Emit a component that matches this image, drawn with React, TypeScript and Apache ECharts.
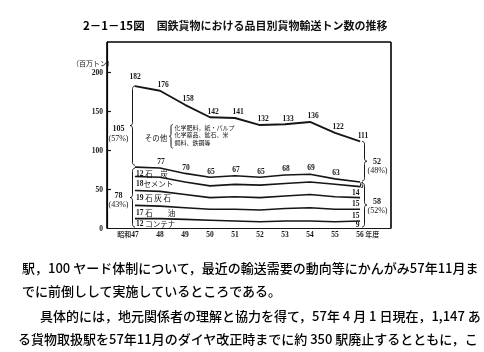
import React, { useEffect, useRef } from 'react';
import * as echarts from 'echarts';

// 年度 (昭和)
const years = [47, 48, 49, 50, 51, 52, 53, 54, 55, 56];
// 百万トン, stacked bottom → top
const containerT = [12, 12, 11, 10, 9, 8, 9, 9, 8, 9];
const oilT = [17, 16, 15, 14, 15, 15, 16, 17, 16, 15];
const limestoneT = [19, 19, 17, 15, 16, 16, 16, 17, 16, 15];
const cementT = [18, 18, 16, 15, 16, 16, 16, 16, 16, 14];
const coalT = [12, 12, 11, 11, 11, 10, 11, 10, 7, 6];
const othersT = [104, 99, 88, 77, 74, 67, 65, 67, 59, 52];

const bandNames = [' コンテナ', ' 石　　油', ' 石 灰 石', 'セメント', ' 石　炭'];
const yTicks = [0, 50, 100, 150, 200];
const others47 = ['105', '(57%)'];
const group47 = ['78', '(43%)'];
const others56 = ['52', '(48%)'];
const group56 = ['58', '(52%)'];
const othersName = 'その他';
const othersNote = ['化学肥料，紙・パルプ', '化学薬品、鉱石、米', '飼料、鉄鋼等'];
const titleNo = '2－1－15図';
const titleText = '国鉄貨物における品目別貨物輸送トン数の推移';
const yUnit = '（百万トン）';
const bodyLines = [
  '駅，100 ヤード体制について，最近の輸送需要の動向等にかんがみ57年11月ま',
  'でに前倒しして実施しているところである。',
  '具体的には，地元関係者の理解と協力を得て，57年 4 月 1 日現在，1,147 あ',
  'る貨物取扱駅を57年11月のダイヤ改正時までに約 350 駅廃止するとともに，こ',
];

const INK = '#161616';
const NUM = "'Liberation Serif', 'DejaVu Serif', serif";
const JP = "'Noto Sans CJK JP', sans-serif";
const X_MIN = 45.88;
const X_MAX = 57.24;
const Y_MAX = 238.5;

function bracePoints(x: number, y1: number, y2: number, w: number, dir: number) {
  const pts: number[][] = [];
  const ym = (y1 + y2) / 2;
  const r = Math.min(w * 1.3, (y2 - y1) / 4);
  const q = (p0: number[], c: number[], p1: number[]) => {
    for (let i = 0; i <= 6; i++) {
      const t = i / 6;
      const a = (1 - t) * (1 - t), b = 2 * (1 - t) * t, d = t * t;
      pts.push([a * p0[0] + b * c[0] + d * p1[0], a * p0[1] + b * c[1] + d * p1[1]]);
    }
  };
  q([x + dir * w, y1], [x, y1], [x, y1 + r]);
  q([x, ym - r], [x, ym], [x - dir * w, ym]);
  q([x - dir * w, ym], [x, ym], [x, ym + r]);
  q([x, y2 - r], [x, y2], [x + dir * w, y2]);
  return pts;
}

export default function App() {
  const ref = useRef<HTMLDivElement>(null);
  useEffect(() => {
    const el = ref.current!;
    const chart = echarts.init(el, null, { renderer: 'svg' });
    const stack = [containerT, oilT, limestoneT, cementT, coalT, othersT];
    const totals = years.map((_, j) => stack.reduce((s, a) => s + a[j], 0));
    const groupTotals = years.map((_, j) => stack.slice(0, 5).reduce((s, a) => s + a[j], 0));
    const numLabel = { fontSize: 7.5, fontWeight: 'bold', fontFamily: NUM, color: INK };

    const series = stack.map((arr, i) => {
      // value first so that the stack is applied to the value dimension
      const s: any = {
        type: 'line',
        stack: 'all',
        encode: { x: 1, y: 0 },
        symbol: 'circle',
        symbolSize: 0.5,
        showSymbol: true,
        silent: true,
        itemStyle: { color: INK },
        lineStyle: { color: INK, width: i === 5 ? 1.9 : 1.6 },
        data: arr.map((v, j) => [v, years[j]]),
      };
      if (i === 5) {
        s.data = arr.map((v, j) =>
          j === 0 ? { value: [v, years[j]], label: { distance: 5, offset: [0, 0] } } : [v, years[j]]
        );
        s.label = {
          show: true, position: 'top', distance: 2, offset: [3, 0],
          formatter: (p: any) => String(totals[p.dataIndex]), ...numLabel,
        };
      }
      if (i === 4) {
        s.label = {
          show: true, position: 'top', distance: 2, offset: [1, 0],
          formatter: (p: any) => (p.dataIndex === 0 || p.dataIndex === 9 ? '' : String(groupTotals[p.dataIndex])),
          ...numLabel,
        };
      }
      return s;
    });

    chart.setOption({
      animation: false,
      backgroundColor: '#fff',
      grid: { left: 107, right: 93, top: 42, bottom: 124 },
      xAxis: {
        type: 'value', min: X_MIN, max: X_MAX,
        axisLine: { show: true, onZero: false, lineStyle: { color: INK, width: 1.2 } },
        axisTick: { show: false },
        splitLine: { show: false },
        axisLabel: {
          customValues: years, margin: 2, ...numLabel,
          formatter: (v: number) =>
            v === 47 ? '{s|昭和}{v|47}{h|昭和}' : v === 56 ? '{h| 年度}{v|56}{s| 年度}' : `{v|${v}}`,
          rich: {
            s: { fontSize: 7, fontFamily: JP, color: '#333' },
            h: { fontSize: 7, fontFamily: JP, color: 'rgba(0,0,0,0)' },
            v: { ...numLabel },
          },
        },
      },
      yAxis: {
        type: 'value', min: 0, max: Y_MAX,
        axisLine: { show: true, lineStyle: { color: INK, width: 1.2 } },
        axisTick: { show: true, inside: true, length: 4, customValues: yTicks.slice(1), lineStyle: { color: INK, width: 1.2 } },
        splitLine: { show: false },
        axisLabel: { customValues: yTicks, margin: 4, ...numLabel },
      },
      series,
    });

    const px = (x: number, y: number) => chart.convertToPixel({ xAxisIndex: 0, yAxisIndex: 0 }, [x, y]) as number[];
    const g: any[] = [];
    const txt = (text: string, x: number, y: number, o: any = {}) =>
      g.push({ type: 'text', x, y, silent: true, style: { text, fill: INK, align: 'center', verticalAlign: 'middle', fontSize: 8, fontWeight: 'bold', fontFamily: NUM, ...o } });
    const brace = (x: number, y1: number, y2: number, w: number, dir: number) =>
      g.push({ type: 'polyline', silent: true, shape: { points: bracePoints(x, y1, y2, w, dir) }, style: { stroke: INK, lineWidth: 1, fill: 'none' } });

    // frame (top, right and left edges of the plot box)
    const tl = px(X_MIN, Y_MAX);
    const br = px(X_MAX, 0);
    const edge = (x1: number, y1: number, x2: number, y2: number) =>
      g.push({ type: 'line', silent: true, z: 20, shape: { x1, y1, x2, y2 }, style: { stroke: '#000', lineWidth: 1.6 } });
    edge(tl[0], tl[1], br[0], tl[1]);
    edge(br[0], tl[1], br[0], br[1]);
    edge(tl[0], tl[1], tl[0], br[1]);

    // title
    g.push({
      type: 'text', x: 83, y: 25, silent: true,
      style: {
        text: `{b|${titleNo}}　{n|${titleText}}`, verticalAlign: 'middle',
        rich: {
          b: { fontSize: 11.5, fontWeight: 'bold', fontFamily: JP, fill: '#000' },
          n: { fontSize: 11, fontWeight: 'bold', fontFamily: JP, fill: '#111' },
        },
      },
    });
    txt(yUnit, 72, 62.5, { align: 'left', fontSize: 7, fontWeight: 'normal', fontFamily: JP });

    // braces at 47
    const x47 = px(47, 0)[0];
    const zero = px(47, 0)[1];
    const yTop47 = px(47, totals[0])[1];
    const yGrp47 = px(47, groupTotals[0])[1];
    let bx = x47 - 2.5;
    brace(bx, yTop47, yGrp47 - 2, 2.5, 1);
    let ym = (yTop47 + yGrp47 - 2) / 2;
    txt(others47[0], bx - 14, ym + 3);
    txt(others47[1], bx - 14, ym + 13, { fontWeight: 'normal' });
    brace(bx, yGrp47 + 1, zero - 1, 2.5, 1);
    ym = (yGrp47 + zero) / 2;
    txt(group47[0], bx - 14, ym - 2);
    txt(group47[1], bx - 14, ym + 7, { fontWeight: 'normal' });

    // braces at 56
    const x56 = px(56, 0)[0];
    const yTop56 = px(56, totals[9])[1];
    const yGrp56 = px(56, groupTotals[9])[1];
    bx = x56 + 4.5;
    brace(bx, yTop56, yGrp56 - 1, 2.5, -1);
    ym = (yTop56 + yGrp56 - 1) / 2;
    txt(others56[0], bx + 12.5, ym);
    txt(others56[1], bx + 13, ym + 9.5, { fontWeight: 'normal' });
    brace(bx, yGrp56 + 1, zero - 1, 2.5, -1);
    ym = (yGrp56 + zero) / 2;
    txt(group56[0], bx + 12.5, ym - 3);
    txt(group56[1], bx + 13, ym + 6, { fontWeight: 'normal' });

    // band labels at 47 and values at 56
    let base47 = 0;
    let base56 = 0;
    for (let i = 0; i < 5; i++) {
      const a = stack[i];
      const y47 = px(47, base47 + a[0] / 2)[1] + (i === 4 ? 2 : 0);
      g.push({
        type: 'text', x: x47 + 1, y: y47, silent: true,
        style: {
          text: `{n|${a[0]}}{c|${bandNames[i]}}`, verticalAlign: 'middle', align: 'left',
          rich: {
            n: { ...numLabel, fill: INK },
            c: { fontSize: 7.5, fontFamily: JP, fill: INK },
          },
        },
      });
      const y56 = px(56, base56 + a[9] / 2)[1] + 0.5;
      if (i === 4) txt(String(a[9]), x56 + 1.5, y56 + 1, { fontSize: 7.5 });
      else txt(String(a[9]), x56 - 0.5, y56, { align: 'right', fontSize: 7.5 });
      base47 += a[0];
      base56 += a[9];
    }

    // その他 note
    txt(othersName, 156, 137, { fontSize: 7.5, fontWeight: 'normal', fontFamily: JP });
    brace(171, 124.5, 148, 1.8, 1);
    othersNote.forEach((t, k) =>
      txt(t, 174.5, 127 + k * 7.5, { align: 'left', fontSize: 6, fontWeight: 'normal', fontFamily: JP })
    );

    // body text
    const bodyX = [22, 22, 40, 18];
    const bodyY = [267, 290.5, 315.5, 338.5];
    bodyLines.forEach((t, k) =>
      txt(t, bodyX[k], bodyY[k], { align: 'left', fontSize: 13, fontWeight: 500, fontFamily: JP, fill: '#000' })
    );

    chart.setOption({ graphic: g });
    return () => chart.dispose();
  }, []);
  return (
    <div
      ref={ref}
      style={{ position: 'fixed', left: 0, top: 0, width: 484, height: 352, background: '#fff', filter: 'grayscale(1)' }}
    />
  );
}
